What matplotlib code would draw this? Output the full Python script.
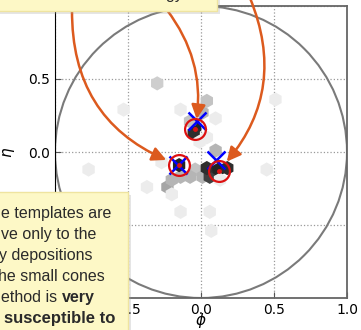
import numpy as np
import matplotlib
matplotlib.use("Agg")
import matplotlib.pyplot as plt
from matplotlib.patches import Circle, Rectangle

W, H = 361, 330

# hexbin cells (phi, eta, relative energy)
hex_phi = [-0.30, -0.53, -0.14, 0.04, 0.51, 0.10, 0.01, -0.04, -0.05, -0.075,
           0.04, -0.01, -0.27, -0.14, -0.23, -0.20, -0.37, -0.04, 0.01, 0.06,
           0.04, 0.12, 0.10, 0.18, -0.14, 0.06, 0.13, 0.45, 0.07, -0.77,
           -0.075, -0.15, -0.20]
hex_eta = [0.47, 0.29, 0.29, 0.35, 0.36, 0.23, 0.27, 0.17, 0.13, 0.21,
           0.10, 0.07, -0.07, -0.17, -0.24, -0.29, -0.24, -0.12, -0.17, -0.17,
           -0.11, -0.12, 0.01, -0.11, -0.41, -0.41, -0.19, -0.12, -0.54, -0.12,
           -0.17, -0.09, -0.19]
hex_energy = [0.30, 0.15, 0.15, 0.35, 0.15, 0.15, 0.40, 0.88, 0.85, 0.35,
              0.15, 0.15, 0.15, 0.40, 0.45, 0.15, 0.15, 0.35, 0.40, 0.80,
              0.85, 0.88, 0.40, 0.85, 0.15, 0.15, 0.15, 0.15, 0.15, 0.15,
              0.40, 0.88, 0.40]

# jet axes (red circles) and template axes (blue crosses)
jet_phi = [-0.04, -0.15, 0.12]
jet_eta = [0.16, -0.09, -0.13]
tmpl_phi = [-0.03, -0.16, 0.10]
tmpl_eta = [0.215, -0.09, -0.055]

cone_radius = 1.0
ticks = [-1.0, -0.5, 0.0, 0.5, 1.0]

box_lines = ["e templates are", "ve only to the", "y depositions",
             "he small cones"]


def px(x, y):
    """pixel (from top-left) -> figure fraction"""
    return x / W, (H - y) / H


fig = plt.figure(figsize=(W / 100, H / 100), dpi=100)
ax = fig.add_axes([55 / W, 32 / H, 292 / W, 292 / H])

ax.scatter(hex_phi, hex_eta, c=hex_energy, cmap='Greys', vmin=0, vmax=1,
           marker='h', s=105, linewidths=0, zorder=2)
ax.add_patch(Circle((0, 0), cone_radius, fill=False, ec='#7a7a7a', lw=1.5, zorder=1))

ax.plot(tmpl_phi, tmpl_eta, 'x', color='blue', ms=13, mew=1.8, zorder=3)
ax.plot(jet_phi, jet_eta, 'o', mfc='none', mec='#dd1111', ms=15, mew=1.6, zorder=4)
ax.plot(jet_phi, jet_eta, 'o', color='#dd1111', ms=2.5, zorder=4)

ax.set_xlim(-1, 1)
ax.set_ylim(-1, 1)
ax.set_xticks(ticks)
ax.set_yticks(ticks)
ax.set_xticklabels([f'{t:.1f}' for t in ticks])
ax.set_yticklabels([f'{t:.1f}' for t in ticks])
ax.tick_params(direction='in', labelsize=10, length=4, color='#555')
ax.grid(True, linestyle=':', color='#999999', linewidth=0.9)
ax.set_axisbelow(True)
for s in ['right', 'bottom', 'top']:
    ax.spines[s].set_color('#666666')
    ax.spines[s].set_linewidth(1.3)
ax.spines['left'].set_color('black')
ax.set_xlabel(r'$\phi$', fontsize=11)
ax.set_ylabel(r'$\eta$', fontsize=11)
ax.xaxis.set_label_coords(0.5, -0.045)
ax.yaxis.set_label_coords(-0.13, 0.5)

# orange arrows from the callout boxes
orange = '#dc5a1e'
arrows = [((72, H - 10), 1, 0.35, 10),
          ((167, H - 10), 0, -0.22, 7),
          ((250, H + 2), 2, -0.32, 9)]
for start, k, rad, shrink in arrows:
    ax.annotate('', xy=(jet_phi[k], jet_eta[k]), xycoords='data',
                xytext=start, textcoords='figure pixels', annotation_clip=False,
                arrowprops=dict(arrowstyle='-|>,head_length=0.6,head_width=0.3',
                                mutation_scale=14, color=orange, lw=1.8,
                                connectionstyle=f'arc3,rad={rad}',
                                shrinkA=0, shrinkB=shrink))

# callout boxes
fill = '#fdf8c6'
edge = '#efe4a0'
x0, y0 = px(-5, H + 5)
x1, y1 = px(128, 192)
fig.add_artist(Rectangle((x0 + 3 / W, y0 - 3 / H), x1 - x0, y1 - y0,
                         transform=fig.transFigure, color='#999999', alpha=0.25, lw=0, zorder=9))
fig.add_artist(Rectangle((x0, y0), x1 - x0, y1 - y0, transform=fig.transFigure,
                         fc=fill, ec=edge, lw=1, zorder=10))
x0, y0 = px(-5, 11)
x1, y1 = px(217, -5)
fig.add_artist(Rectangle((x0 + 3 / W, y0 - 3 / H), x1 - x0, y1 - y0,
                         transform=fig.transFigure, color='#999999', alpha=0.25, lw=0, zorder=9))
fig.add_artist(Rectangle((x0, y0), x1 - x0, y1 - y0, transform=fig.transFigure,
                         fc=fill, ec=edge, lw=1, zorder=10))

tkw = dict(family='Liberation Sans', fontsize=11.5, color='#2a2a2a', va='baseline', zorder=11)
fig.text(*px(183, -1), 'energy', ha='right', **tkw)

offsets = [1, 1, -1, -2]
for i, (line, dx) in enumerate(zip(box_lines, offsets)):
    fig.text(*px(dx, 218 + 21 * i), line, ha='left', **tkw)

t = fig.text(*px(1, 302), 'ethod is ', ha='left', **tkw)
fig.canvas.draw()
bb = t.get_window_extent()
fig.text(bb.x1 / W, (H - 302) / H, 'very', ha='left', fontweight='bold', **tkw)
fig.text(*px(4, 323), 'susceptible to', ha='left', fontweight='bold', fontsize=12, **{k: v for k, v in tkw.items() if k != 'fontsize'})

fig.savefig('out.png', dpi=100)
